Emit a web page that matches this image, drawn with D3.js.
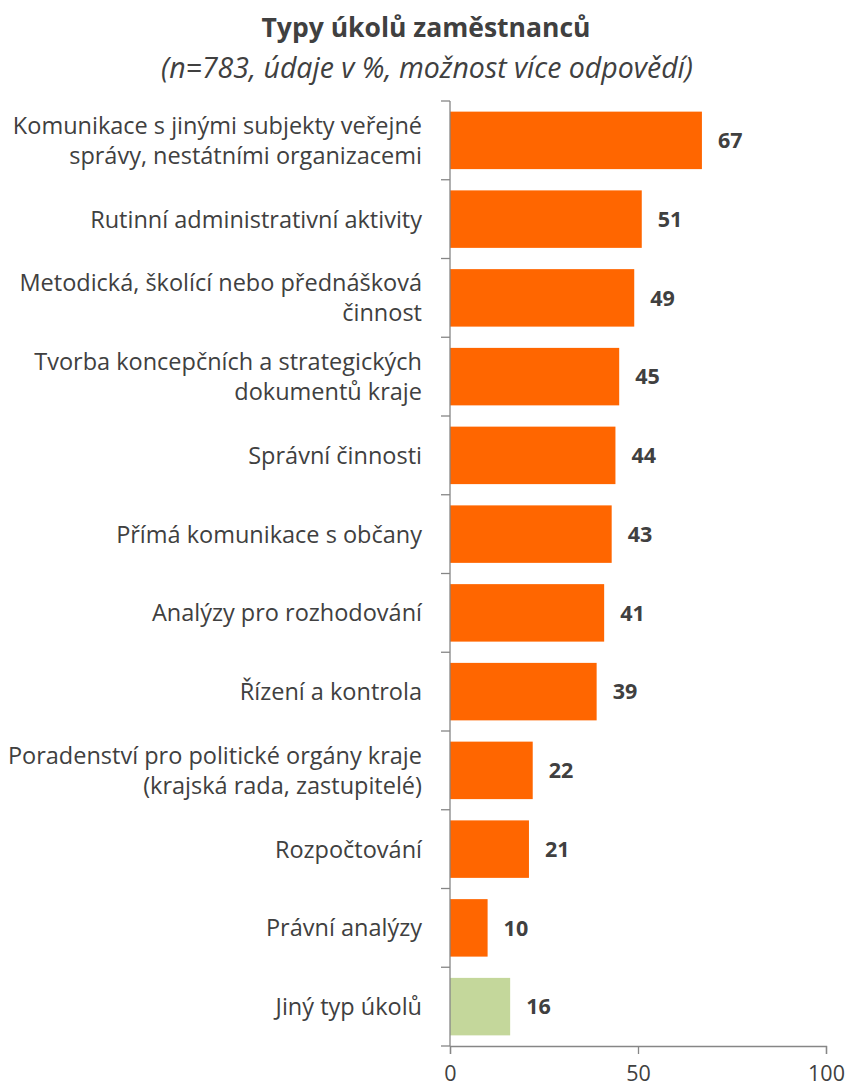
<!DOCTYPE html>
<html>
<head>
<meta charset="utf-8">
<script src="https://cdn.jsdelivr.net/npm/d3@7"></script>
<style>
  body { margin: 0; background: #fff; }
  text { font-family: "Open Sans", Lato, sans-serif; fill: #404040; }
</style>
</head>
<body>
<div id="chart"></div>
<script>
// categories (label lines) and values
const categories = [
  ["Komunikace s jinými subjekty veřejné", "správy, nestátními organizacemi"],
  ["Rutinní administrativní aktivity"],
  ["Metodická, školící nebo přednášková", "činnost"],
  ["Tvorba koncepčních a strategických", "dokumentů kraje"],
  ["Správní činnosti"],
  ["Přímá komunikace s občany"],
  ["Analýzy pro rozhodování "],
  ["Řízení a kontrola "],
  ["Poradenství pro politické orgány kraje", "(krajská rada, zastupitelé)"],
  ["Rozpočtování"],
  ["Právní analýzy"],
  ["Jiný typ úkolů"]
];
const values = [67, 51, 49, 45, 44, 43, 41, 39, 22, 21, 10, 16];
const xTicks = [0, 50, 100];

const width = 848, height = 1089;
const margin = {top: 101, left: 450, right: 22, bottom: 43};
const fontFam = "'Open Sans', Lato, sans-serif";

const svg = d3.select("#chart").append("svg")
    .attr("width", width)
    .attr("height", height);

const x = d3.scaleLinear()
    .domain([0, 100])
    .range([margin.left, width - margin.right]);

const y = d3.scaleBand()
    .domain(d3.range(categories.length))
    .range([margin.top, height - margin.bottom])
    .paddingInner(0.27)
    .paddingOuter(0.135);

// title
svg.append("text")
    .attr("x", 426).attr("y", 37)
    .attr("text-anchor", "middle")
    .attr("font-size", 26.5)
    .attr("font-weight", "bold")
    .text("Typy úkolů zaměstnanců");
svg.append("text")
    .attr("x", 427).attr("y", 78)
    .attr("text-anchor", "middle")
    .attr("font-size", 28.5)
    .attr("font-style", "italic")
    .text("(n=783, údaje v %, možnost více odpovědí)");

// bars
svg.append("g")
  .selectAll("rect")
  .data(values)
  .join("rect")
    .attr("x", x(0))
    .attr("y", (d, i) => y(i))
    .attr("width", d => x(d) - x(0))
    .attr("height", y.bandwidth())
    .attr("fill", (d, i) => i === values.length - 1 ? "#c4d79b" : "#ff6600");

// value labels
svg.append("g")
  .selectAll("text")
  .data(values)
  .join("text")
    .attr("x", d => x(d) + 16)
    .attr("y", (d, i) => y(i) + y.bandwidth() / 2)
    .attr("dy", "0.36em")
    .attr("font-size", 21.5)
    .attr("font-weight", "bold")
    .text(d => d);

// category labels
const lab = svg.append("g")
  .selectAll("text")
  .data(categories)
  .join("text")
    .attr("text-anchor", "end")
    .attr("font-size", 23.5)
    .attr("y", (d, i) => y(i) + y.bandwidth() / 2);
lab.selectAll("tspan")
  .data(d => d.map((t, j) => ({t, j, n: d.length})))
  .join("tspan")
    .attr("x", 422)
    .attr("dy", d => d.j === 0 ? (0.36 - (d.n - 1) * 0.64) + "em" : "1.28em")
    .text(d => d.t);

// y axis: line plus ticks at category boundaries
const axisColor = "#868686";
const boundaries = d3.range(categories.length + 1).map(i =>
    margin.top + i * (height - margin.bottom - margin.top) / categories.length);
svg.append("g")
  .selectAll("line")
  .data(boundaries)
  .join("line")
    .attr("x1", x(0) - 9).attr("x2", x(0))
    .attr("y1", d => d).attr("y2", d => d)
    .attr("stroke", axisColor).attr("stroke-width", 1.3);
svg.append("line")
    .attr("x1", x(0)).attr("x2", x(0))
    .attr("y1", margin.top).attr("y2", height - margin.bottom)
    .attr("stroke", axisColor).attr("stroke-width", 1.3);

// x axis
const xAxis = svg.append("g")
    .attr("transform", `translate(0,${height - margin.bottom})`)
    .call(d3.axisBottom(x).tickValues(xTicks).tickSize(8).tickPadding(12));
xAxis.select(".domain").attr("stroke", axisColor).attr("stroke-width", 1.3);
xAxis.selectAll(".tick line").attr("stroke", axisColor).attr("stroke-width", 1.3);
xAxis.selectAll(".tick text")
    .attr("font-size", 21.5)
    .attr("fill", "#404040")
    .style("font-family", fontFam);
</script>
</body>
</html>
